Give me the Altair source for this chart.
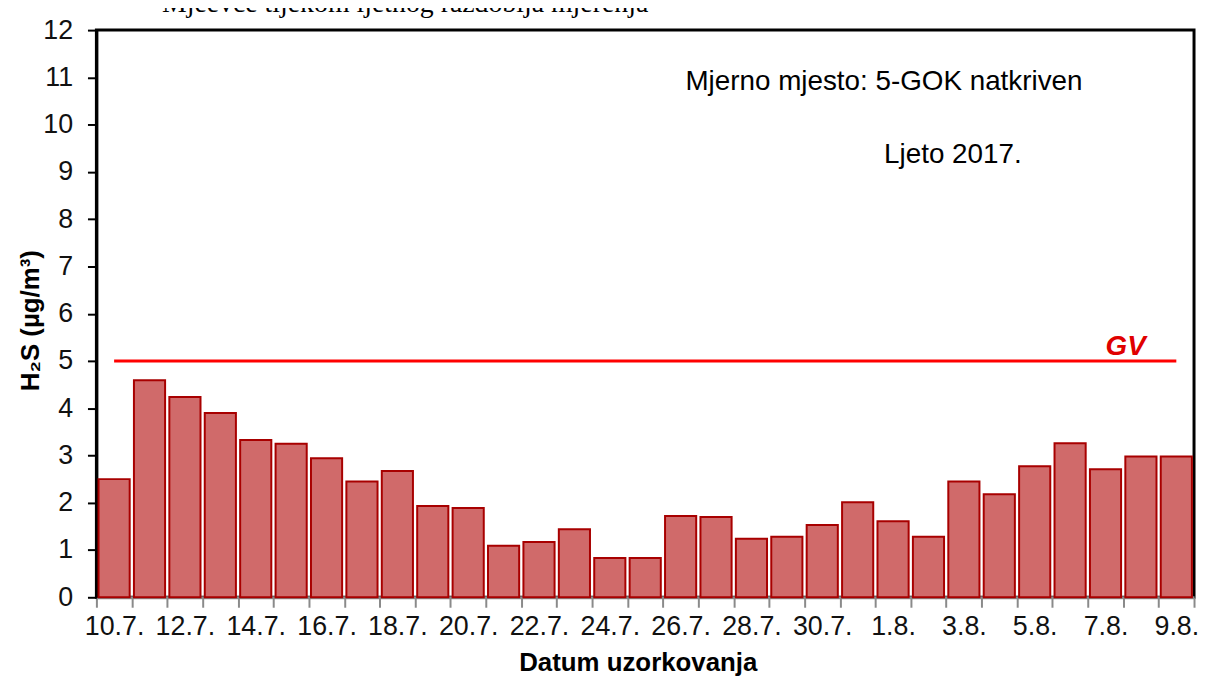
import altair as alt
import pandas as pd

# ---- data ----
dates = ["10.7.", "11.7.", "12.7.", "13.7.", "14.7.", "15.7.", "16.7.", "17.7.",
         "18.7.", "19.7.", "20.7.", "21.7.", "22.7.", "23.7.", "24.7.", "25.7.",
         "26.7.", "27.7.", "28.7.", "29.7.", "30.7.", "31.7.", "1.8.", "2.8.",
         "3.8.", "4.8.", "5.8.", "6.8.", "7.8.", "8.8.", "9.8."]
h2s = [2.50, 4.59, 4.24, 3.90, 3.33, 3.25, 2.94, 2.45, 2.67, 1.93, 1.89, 1.09,
       1.17, 1.44, 0.83, 0.83, 1.72, 1.70, 1.24, 1.28, 1.53, 2.01, 1.61, 1.28,
       2.45, 2.18, 2.77, 3.26, 2.71, 2.98, 2.98]
gv_limit = 5.0
y_ticks = list(range(0, 13))

top_title = "Mjeevce tijekom ljetnog razdoblja mjerenja"
note1 = "Mjerno mjesto: 5-GOK natkriven"
note2 = "Ljeto 2017."
gv_label = "GV"
x_title = "Datum uzorkovanja"
y_title = "H\u2082S (\u00b5g/m\u00b3)"

n = len(dates)
df = pd.DataFrame({"date": dates, "h2s": h2s})
df["idx"] = range(n)
df["x0"] = df["idx"] + 0.06
df["x1"] = df["idx"] + 0.94
df["xc"] = df["idx"] + 0.5
df["gv"] = gv_limit

tick_vals = list(range(n + 1))
label_vals = [i + 0.5 for i in range(0, n, 2)]
lab_js = "[" + ",".join("'" + d + "'" for d in dates) + "]"

FONT = "Liberation Sans"

x_scale = alt.Scale(domain=[0, n], nice=False, zero=False)
y_scale = alt.Scale(domain=[0, 12], nice=False)

x_axis = alt.Axis(
    values=tick_vals + label_vals,
    labelExpr="datum.value % 1 == 0 ? '' : " + lab_js + "[floor(datum.value)]",
    tickOpacity={"condition": {"test": "datum.value % 1 == 0", "value": 1}, "value": 0},
    tickColor="#8a8a8a", tickSize=10, tickWidth=2,
    domainColor="#8a8a8a", domainWidth=3,
    labelFont=FONT, labelFontSize=27, labelColor="#111111", labelPadding=6,
    labelOverlap=False, labelFlush=False, labelBound=False,
    grid=False,
    title=x_title, titleFont=FONT, titleFontSize=26, titleFontWeight="bold",
    titleColor="#000000", titleX=545, titleY=74, titleAlign="center",
    titleBaseline="alphabetic",
)
y_axis = alt.Axis(
    values=y_ticks,
    tickColor="#000000", tickSize=9, tickWidth=2,
    domainColor="#000000", domainWidth=3,
    labelFont=FONT, labelFontSize=27, labelColor="#111111", labelPadding=15,
    grid=False,
    title=y_title, titleFont=FONT, titleFontSize=26, titleFontWeight="bold",
    titleColor="#000000", titleX=-58, titleY=292, titleAlign="center",
    titleBaseline="alphabetic",
)

base = alt.Chart(df)

bars = base.mark_bar(fill="#d06a6a", stroke="#a80000", strokeWidth=2).encode(
    x=alt.X("x0:Q", scale=x_scale, axis=x_axis),
    x2="x1:Q",
    y=alt.Y("h2s:Q", scale=y_scale, axis=y_axis),
    y2=alt.datum(0),
)

gv_line = base.mark_line(color="#ff0000", strokeWidth=3).encode(
    x=alt.X("xc:Q", scale=x_scale, axis=x_axis),
    y=alt.Y("gv:Q", scale=y_scale, axis=y_axis),
)


def text_layer(txt, x, y, **kw):
    return alt.Chart(pd.DataFrame({"t": [txt]})).mark_text(
        align="left", baseline="alphabetic", **kw
    ).encode(x=alt.value(x), y=alt.value(y), text="t:N")


t_top = text_layer(top_title, 66, -18, font="Liberation Serif", fontSize=28, color="#000000")
t_note1 = text_layer(note1, 593, 60, font=FONT, fontSize=28, color="#000000")
t_note2 = text_layer(note2, 793, 134, font=FONT, fontSize=28, color="#000000")
t_gv = text_layer(gv_label, 1016, 327, font=FONT, fontSize=28, fontWeight="bold",
                  fontStyle="italic", color="#e00000")

chart = alt.layer(bars, gv_line, t_top, t_note1, t_note2, t_gv).properties(
    width=1105,
    height=571,
    padding={"left": 89, "top": 20, "right": 4, "bottom": 80},
    autosize=alt.AutoSizeParams(type="none"),
    background="#ffffff",
).configure_view(
    stroke="#000000", strokeWidth=3
)

chart.save("out.html", embed_options={"renderer": "svg", "actions": False})
